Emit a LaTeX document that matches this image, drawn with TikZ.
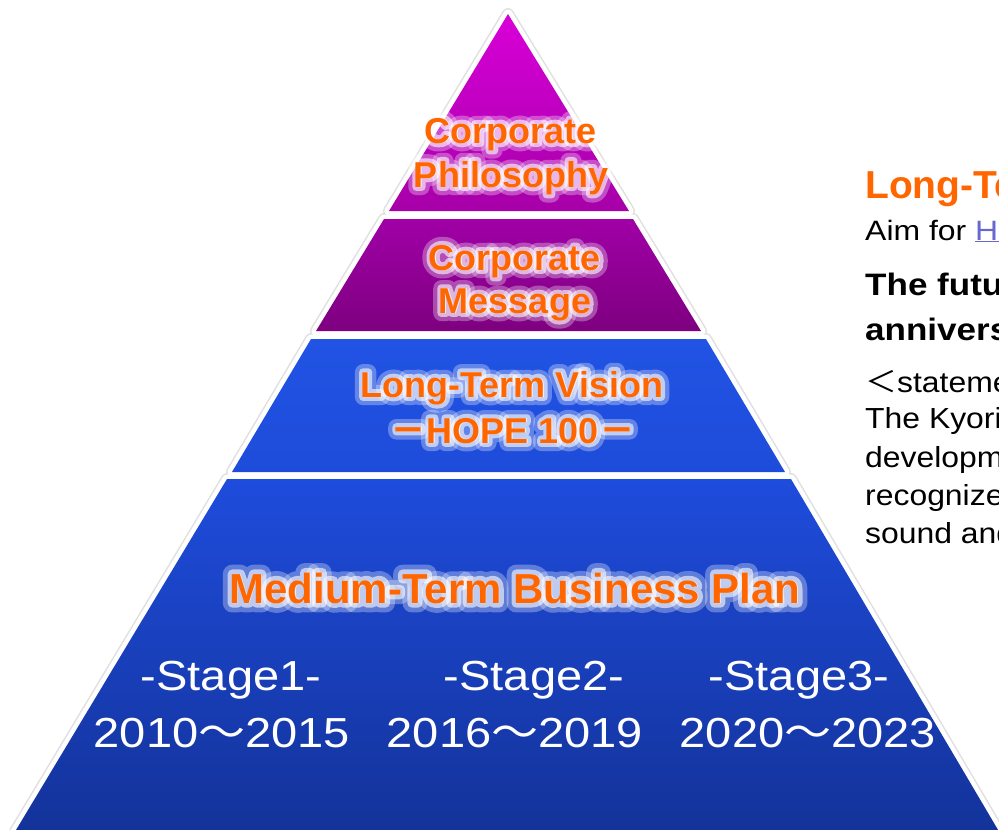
\documentclass[tikz,border=0pt]{standalone}
\usepackage{graphicx}
\usepackage{fontspec}
\setmainfont{Liberation Sans}
\newfontfamily\cjk{Noto Sans CJK JP}
\newfontfamily\cjkhaloA[FakeBold=45]{Noto Sans CJK JP}
\newfontfamily\cjkhaloB[FakeBold=22]{Noto Sans CJK JP}
\usetikzlibrary{calc}

\definecolor{labelorange}{RGB}{255,102,0}
\definecolor{philtop}{RGB}{216,0,216}
\definecolor{philbot}{RGB}{166,0,168}
\definecolor{msgtop}{RGB}{160,0,166}
\definecolor{msgbot}{RGB}{126,0,128}
\definecolor{vistop}{RGB}{33,83,228}
\definecolor{visbot}{RGB}{30,76,218}
\definecolor{medtop}{RGB}{30,76,220}
\definecolor{medbot}{RGB}{19,50,152}
\definecolor{linkblue}{RGB}{104,104,206}

\tikzset{
  layershadow/.style={draw=black!12, line width=12pt, line join=round},
  layerrim/.style={draw=white, line width=9pt, line join=round},
  glowbase/.style={text=white, inner sep=0pt, anchor=base},
  orangelabel/.style={text=labelorange, inner sep=0pt, anchor=base},
  stagetext/.style={text=white, inner sep=0pt, anchor=base,
    font=\fontsize{42}{46}\selectfont},
  sidetext/.style={inner sep=0pt, anchor=base west},
}

% the four layers of the pyramid, drawn with a given style
\newcommand\pyrpass[1]{%
  \path[#1] (508,14) -- (629,211) -- (389,211) -- cycle;
  \path[#1] (384,219) -- (633,219) -- (701,331) -- (316,331) -- cycle;
  \path[#1] (311,339) -- (706,339) -- (785,472) -- (232,472) -- cycle;
  \path[#1] (227,479) -- (791,479) -- (1004,840) -- (10,840) -- cycle;
}

% orange bold label over two emboldened white halos (wide and narrow)
\newcommand\glowlabel[4]{% name, position, font, text
  \node[glowbase, opacity=.3,
        font={#3\addfontfeatures{FakeBold=45}\let\cjk\cjkhaloA\pgfsetroundjoin\pgfsetroundcap}]
    (#1-haloA) at (#2) {#4};
  \node[glowbase, opacity=.6,
        font={#3\addfontfeatures{FakeBold=22}\let\cjk\cjkhaloB\pgfsetroundjoin\pgfsetroundcap}]
    (#1-haloB) at (#2) {#4};
  \node[orangelabel, font={#3}] (#1) at (#2) {#4};
}

\begin{document}
\begin{tikzpicture}[x=1pt, y=-1pt]
\useasboundingbox (0,0) rectangle (999,830);
\fill[white] (0,0) rectangle (999,830);
\begin{scope}
\clip (0,0) rectangle (999,830);

% pyramid: soft shadow, white rim, coloured fills
\pyrpass{layershadow}
\pyrpass{layerrim}
\path[top color=philtop, bottom color=philbot]
  (508,14) -- (629,211) -- (389,211) -- cycle;
\path[top color=msgtop, bottom color=msgbot]
  (384,219) -- (633,219) -- (701,331) -- (316,331) -- cycle;
\path[top color=vistop, bottom color=visbot]
  (311,339) -- (706,339) -- (785,472) -- (232,472) -- cycle;
\path[top color=medtop, bottom color=medbot]
  (227,479) -- (791,479) -- (1004,840) -- (10,840) -- cycle;

% layer titles
\glowlabel{phil1}{511,143}{\fontsize{36}{40}\selectfont\bfseries}{Corporate}
\glowlabel{phil2}{511,187}{\fontsize{36}{40}\selectfont\bfseries}{Philosophy}
\glowlabel{msg1}{515,270}{\fontsize{36}{40}\selectfont\bfseries}{Corporate}
\glowlabel{msg2}{515,313}{\fontsize{36}{40}\selectfont\bfseries}{Message}
\glowlabel{vis1}{512,397}{\fontsize{36}{40}\selectfont\bfseries}{Long-Term Vision}
\glowlabel{vis2}{513,443}{\fontsize{36}{40}\selectfont\bfseries}{{\cjk －}HOPE 100{\cjk －}}
\glowlabel{med}{515,603}{\fontsize{42}{46}\selectfont\bfseries}{Medium-Term Business Plan}

% stages of the medium-term plan
\node[stagetext] (stage1) at (231,690) {\scalebox{1.12}[1]{-Stage1-}};
\node[stagetext] (years1) at (222,747) {\scalebox{1.12}[1]{2010{\cjk ～}2015}};
\node[stagetext] (stage2) at (534,690) {\scalebox{1.12}[1]{-Stage2-}};
\node[stagetext] (years2) at (515,747) {\scalebox{1.12}[1]{2016{\cjk ～}2019}};
\node[stagetext] (stage3) at (799,690) {\scalebox{1.12}[1]{-Stage3-}};
\node[stagetext] (years3) at (808,747) {\scalebox{1.12}[1]{2020{\cjk ～}2023}};

% side text
\node[sidetext, text=labelorange, font=\fontsize{39}{42}\selectfont\bfseries]
  (side1) at (865,198) {Long-Term Vision};
\node[sidetext, font=\fontsize{28}{32}\selectfont]
  (side2) at (865,240) {\scalebox{1.14}[1]{Aim for \textcolor{linkblue}{\underline{HOPE100}}}};
\node[sidetext, font=\fontsize{31}{34}\selectfont\bfseries]
  (side3) at (865,295) {\scalebox{1.13}[1]{The future}};
\node[sidetext, font=\fontsize{31}{34}\selectfont\bfseries]
  (side4) at (865,340) {\scalebox{1.13}[1]{anniversary}};
\node[sidetext, font=\fontsize{29}{32}\selectfont]
  (side5) at (865,392) {\scalebox{1.1}[1]{{\cjk ＜}statement}};
\node[sidetext, font=\fontsize{29}{32}\selectfont]
  (side6) at (865,428) {\scalebox{1.1}[1]{The Kyorin}};
\node[sidetext, font=\fontsize{29}{32}\selectfont]
  (side7) at (865,467) {\scalebox{1.1}[1]{development}};
\node[sidetext, font=\fontsize{29}{32}\selectfont]
  (side8) at (865,505) {\scalebox{1.1}[1]{recognized}};
\node[sidetext, font=\fontsize{29}{32}\selectfont]
  (side9) at (865,543) {\scalebox{1.1}[1]{sound and}};
\end{scope}
\end{tikzpicture}
\end{document}
